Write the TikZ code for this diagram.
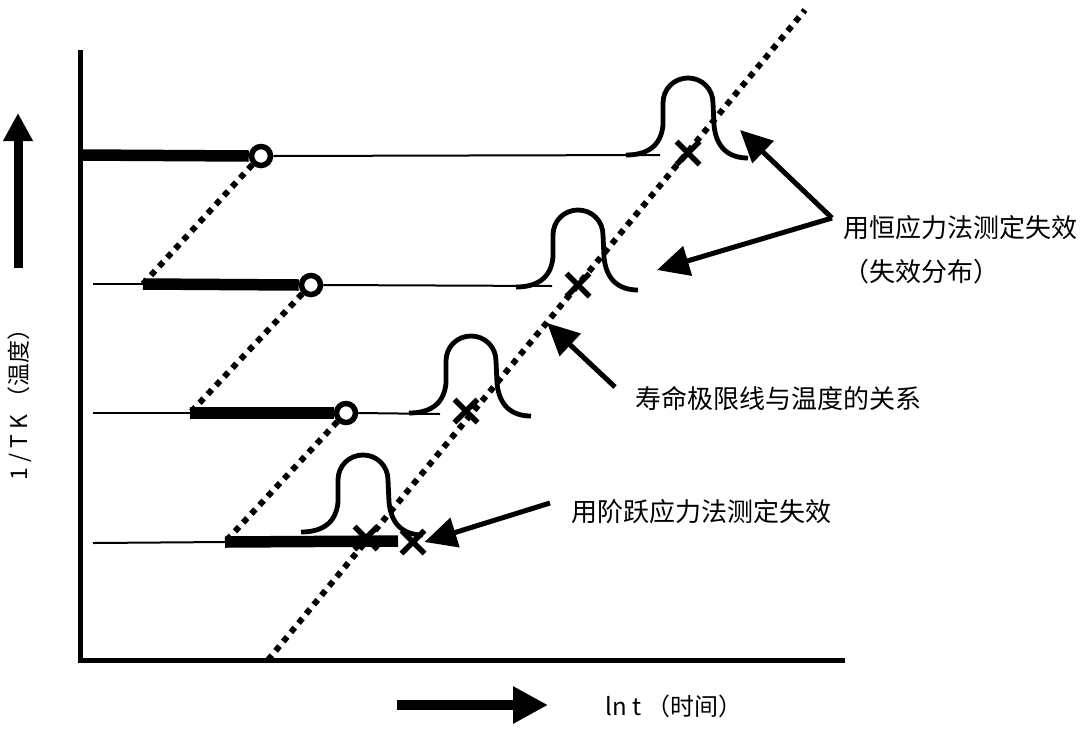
\documentclass[tikz,border=0pt]{standalone}
\usepackage{fontspec}
\setmainfont{Noto Sans CJK SC}
\usetikzlibrary{arrows.meta,shapes.misc}
\tikzset{
  axisline/.style={line width=5pt},
  thinline/.style={line width=2pt},
  thickline/.style={line width=11.5pt},
  dotline/.style={line width=6pt,dash pattern=on 6pt off 6pt},
  ring/.style={circle,draw,line width=5.5pt,minimum size=19pt,inner sep=0pt,fill=white},
  xmark/.style={cross out,draw,line width=5.5pt,minimum size=23pt,inner sep=0pt,outer sep=0pt},
  bellline/.style={line width=4.8pt},
  bigtip/.style={line width=5pt,-{Triangle[length=32pt,width=30pt]}},
  lbl/.style={font=\fontsize{26}{30}\selectfont,anchor=west,inner sep=0pt},
  bell/.pic={\draw[bellline] (-62,0) .. controls (-42,0) and (-27,-8) .. (-25,-30) -- (-25,-52) .. controls (-25,-66) and (-14,-77) .. (0,-77) .. controls (14,-77) and (25,-66) .. (25,-52) -- (26,-30) .. controls (28,-8) and (40,3) .. (60,3);}
}
\begin{document}
\begin{tikzpicture}[x=1pt,y=-1pt]
\useasboundingbox (0,0) rectangle (1092,732);
% axes
\coordinate (ytop) at (80,50);
\coordinate (origin) at (80,660);
\coordinate (xend) at (845,660);
\draw[axisline] (ytop) -- (80,662.5);
\draw[axisline] (77.5,660) -- (xend);
% main life-limit line
\coordinate (lA) at (268,660);
\coordinate (lB) at (805,10);
\draw[dotline] (lA) -- (lB);
% bells
\pic at (688,155) {bell};
\pic at (578,287) {bell};
\pic at (471,413) {bell};
\pic at (363,532) {bell};
% level 1
\node[ring] (c1) at (261,156) {};
\coordinate (t1e) at (660,155);
\draw[thickline] (80,155) -- (c1.west);
\draw[thinline] (c1.east) -- (t1e);
% level 2
\coordinate (s2) at (93,284);
\coordinate (k2) at (143,284);
\node[ring] (c2) at (311,285) {};
\coordinate (t2e) at (552,286);
\draw[thinline] (s2) -- (k2);
\draw[thickline] (k2) -- (c2.west);
\draw[thinline] (c2.east) -- (t2e);
% level 3
\coordinate (s3) at (93,413);
\coordinate (k3) at (190,413);
\node[ring] (c3) at (346,413) {};
\coordinate (t3e) at (440,414);
\draw[thinline] (s3) -- (k3);
\draw[thickline] (k3) -- (c3.west);
\draw[thinline] (c3.east) -- (t3e);
% level 4
\coordinate (s4) at (93,543);
\coordinate (k4) at (225,542);
\coordinate (t4e) at (398,541);
\draw[thinline] (s4) -- (k4);
\draw[thickline] (k4) -- (t4e);
% dotted links
\draw[dotline] (c1.south west) -- (k2);
\draw[dotline] (c2.south west) -- (k3);
\draw[dotline] (c3.south west) -- (k4);
% crosses
\node[xmark] (x1) at (688,153) {};
\node[xmark] (x2) at (578,285) {};
\node[xmark] (x3) at (466,411) {};
\node[xmark] (x4a) at (366,538) {};
\node[xmark] (x4b) at (413,542) {};
% annotation arrows
\coordinate (v1) at (832,218);
\coordinate (p1) at (740,130);
\coordinate (p2) at (657,270);
\draw[bigtip] (v1) -- (p1);
\draw[bigtip] (v1) -- (p2);
\coordinate (v3) at (615,387);
\coordinate (p3) at (547,323);
\draw[bigtip] (v3) -- (p3);
\coordinate (v4) at (550,503);
\draw[bigtip] (v4) -- (x4b.east);
% labels
\node[lbl] (L1) at (843,228) {用恒应力法测定失效};
\node[lbl] (L2) at (843,272) {（失效分布）};
\node[lbl] (L3) at (635,398) {寿命极限线与温度的关系};
\node[lbl] (L4) at (571,512) {用阶跃应力法测定失效};
% axis arrows and labels
\coordinate (ya) at (18,268);
\coordinate (yb) at (18,113);
\draw[line width=9pt,-{Triangle[length=28pt,width=28pt]}] (ya) -- (yb);
\node[font=\fontsize{23}{26}\selectfont,rotate=90,inner sep=0pt] (ylab) at (20,399) {1 / T K （温度）};
\coordinate (xa) at (397,705);
\coordinate (xb) at (548,705);
\draw[line width=10pt,-{Triangle[length=35pt,width=35pt]}] (xa) -- (xb);
\node[lbl,font=\fontsize{24}{28}\selectfont] (xlab) at (605,706) {ln t （时间）};
\end{tikzpicture}
\end{document}
